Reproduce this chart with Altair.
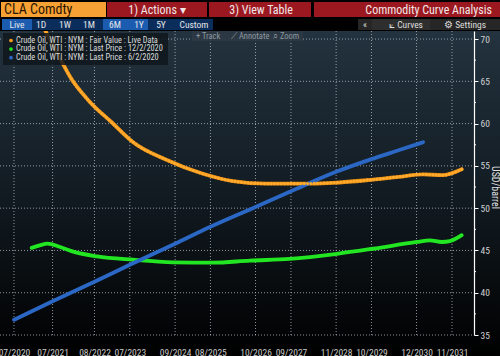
import altair as alt
import pandas as pd

# ---------------- data ----------------
fair_dates = ["2021-01-01", "2021-04-15", "2021-07-01", "2021-10-01", "2021-12-15",
              "2022-06-01", "2023-01-15", "2023-08-01", "2024-06-15", "2025-05-15",
              "2026-03-01", "2027-01-15", "2027-11-15", "2028-10-01", "2029-08-15",
              "2030-06-15", "2031-02-01", "2031-08-01", "2032-02-01"]
fair_vals = [74.0, 71.2, 69.3, 67.2, 65.5, 62.8, 60.1, 57.8, 55.7, 54.1,
             53.2, 52.9, 52.9, 53.0, 53.3, 53.7, 54.0, 53.9, 54.6]

dec_dates = ["2020-12-15", "2021-03-01", "2021-05-15", "2021-09-10", "2022-01-28",
             "2022-08-25", "2023-08-01", "2024-08-15", "2025-08-25", "2026-08-10",
             "2027-08-20", "2028-11-10", "2029-10-15", "2030-12-05", "2031-04-05",
             "2031-07-28", "2031-10-12", "2032-02-01"]
dec_vals = [45.3, 45.6, 45.8, 45.4, 44.8, 44.3, 43.9, 43.6, 43.55, 43.8,
            44.0, 44.6, 45.2, 46.0, 46.2, 46.0, 46.1, 46.8]

jun_dates = ["2020-07-01", "2021-07-01", "2022-08-01", "2023-07-01", "2024-09-01",
             "2025-08-01", "2026-09-05", "2027-09-01", "2028-11-01", "2029-10-01",
             "2030-06-28", "2031-02-01"]
jun_vals = [36.8, 39.0, 41.3, 43.3, 45.8, 47.8, 50.0, 52.0, 54.3, 55.8, 56.9, 57.8]

series_names = ["Crude Oil, WTI : NYM : Fair Value : Live Data",
                "Crude Oil, WTI : NYM : Last Price : 12/2/2020",
                "Crude Oil, WTI : NYM : Last Price : 6/2/2020"]
series_colors = ["#e58a12", "#22e622", "#2b67c4"]
legend_dot_colors = ["#f39a1f", "#22e622", "#2b67c4"]

y_ticks = [35, 40, 45, 50, 55, 60, 65, 70]
y_minor = [37.5, 42.5, 47.5, 52.5, 57.5, 62.5, 67.5]
x_tick_dates = ["2020-07-01", "2021-07-01", "2022-08-01", "2023-07-01", "2024-09-01",
                "2025-08-01", "2026-10-01", "2027-09-01", "2028-11-01", "2029-10-01",
                "2030-12-01", "2031-11-01"]

# ---------------- build ----------------
rows = []
for name, ds, vs in zip(series_names, [fair_dates, dec_dates, jun_dates],
                        [fair_vals, dec_vals, jun_vals]):
    for d, v in zip(ds, vs):
        rows.append({"date": d, "value": v, "series": name})
df = pd.DataFrame(rows)
df_fair = df[df["series"] == series_names[0]]

FONT = "Liberation Sans Narrow, Arial Narrow, Roboto Condensed, Liberation Sans, sans-serif"
W, H = 474, 304
P = 31  # page y of plot top


def dt(s):
    y, m, d = [int(t) for t in s.split("-")]
    return alt.DateTime(year=y, month=m, date=d, utc=True)


xscale = alt.Scale(type="utc", domain=[dt("2020-02-20"), dt("2032-05-27")])
yscale = alt.Scale(domain=[35, 70.95], nice=False, zero=False)

one = pd.DataFrame({"i": [0]})


def rect(x1, x2, y1, y2, color, opacity=1.0):
    return alt.Chart(one).mark_rect(color=color, opacity=opacity).encode(
        x=alt.value(x1), x2=alt.value(x2), y=alt.value(y1 - P), y2=alt.value(y2 - P))


def text(t, x, y, color="#e8e8e8", size=9, align="left", weight="normal"):
    return alt.Chart(one).mark_text(text=t, align=align, baseline="middle", color=color,
                                    fontSize=size, font=FONT, fontWeight=weight).encode(
        x=alt.value(x), y=alt.value(y - P))


bg = alt.Chart(one).mark_rect(
    color=alt.LinearGradient(gradient="linear",
                             stops=[alt.GradientStop(offset=0, color="#23333f"),
                                    alt.GradientStop(offset=0.5, color="#121b22"),
                                    alt.GradientStop(offset=1, color="#000000")],
                             x1=0, x2=0, y1=0, y2=1)
).encode(x=alt.value(0), x2=alt.value(500), y=alt.value(0), y2=alt.value(325))

ygrid = alt.Chart(pd.DataFrame({"v": y_ticks})).mark_rule(
    color="#c8d0d8", strokeDash=[1, 2], strokeWidth=1, opacity=0.7
).encode(y=alt.Y("v:Q", scale=yscale), x=alt.value(0), x2=alt.value(W))

xgrid = alt.Chart(pd.DataFrame({"d": x_tick_dates})).mark_rule(
    color="#c8d0d8", strokeDash=[1, 2], strokeWidth=1, opacity=0.7
).encode(x=alt.X("d:T", scale=xscale), y=alt.value(0), y2=alt.value(H))

minor = alt.Chart(pd.DataFrame({"v": y_minor})).mark_rule(
    color="#ffffff", strokeWidth=1
).encode(y=alt.Y("v:Q", scale=yscale), x=alt.value(W), x2=alt.value(W + 2))

lines = alt.Chart(df).mark_line(strokeWidth=3.8, strokeCap="round", interpolate="monotone",
                                clip=True).encode(
    x=alt.X("date:T", scale=xscale,
            axis=alt.Axis(values=[dt(s) for s in x_tick_dates],
                          labelExpr="utcFormat(datum.value, '%m/%Y')",
                          title=None, grid=False, domain=False,
                          ticks=False, labelFontSize=9.5, labelFont=FONT,
                          labelColor="#c8c8c8", labelPadding=12, zindex=1,
                          labelOverlap=False)),
    y=alt.Y("value:Q", scale=yscale,
            axis=alt.Axis(orient="right", values=y_ticks, title="USD/barrel",
                          grid=False, domainColor="#ffffff", domainWidth=1.2,
                          tickColor="#ffffff", tickSize=4, labelFontSize=9.5,
                          labelFont=FONT, labelColor="#d0d0d0", labelPadding=2,
                          titleFont=FONT, titleFontSize=10, titleColor="#e0e0e0",
                          titleFontWeight="normal", titleAngle=90, titleX=20,
                          titleY=156, titleAlign="center", titleBaseline="middle",
                          zindex=1)),
    color=alt.Color("series:N", scale=alt.Scale(domain=series_names, range=series_colors),
                    legend=None),
    detail="series:N",
)

# beaded highlight on the fair-value curve
beads = alt.Chart(df_fair).mark_line(strokeWidth=3.2, strokeCap="round",
                                     interpolate="monotone", clip=True,
                                     strokeDash=[0.01, 3.3], color="#ffab2e").encode(
    x=alt.X("date:T", scale=xscale), y=alt.Y("value:Q", scale=yscale))

layers = [bg, ygrid, xgrid, lines, beads, minor]

# legend overlay
layers.append(rect(3, 168, 33, 65, "#10171d", 0.86))
for i, (name, col) in enumerate(zip(series_names, legend_dot_colors)):
    yy = 40.5 + i * 8.6
    layers.append(alt.Chart(one).mark_circle(color=col, size=14, opacity=1).encode(
        x=alt.value(11), y=alt.value(yy - P)))
    layers.append(text(name, 16, yy, color="#dcdcdc", size=8.3))

# Track / Annotate / Zoom toolbar
layers.append(rect(192, 303, 31, 41, "#2c3944", 0.9))
layers.append(text("+ Track", 196, 36, color="#8d979f", size=8.5))
layers.append(text("⟋ Annotate", 231, 36, color="#8d979f", size=8.5))
layers.append(text("⌕ Zoom", 273, 36, color="#8d979f", size=8.5))

# header row 1
layers.append(rect(0, 500, 0, 31, "#000000"))
layers.append(rect(1, 106, 2, 17, "#f7a134"))
layers.append(rect(107, 207, 2, 17, "#9c1820"))
layers.append(rect(209, 311, 2, 17, "#9c1820"))
layers.append(rect(314, 500, 2, 17, "#9c1820"))
layers.append(text("CLA Comdty", 4, 10, color="#2a1500", size=14))
layers.append(text("1) Actions ▾", 157, 10, color="#f0e6e6", size=12, align="center"))
layers.append(text("3) View Table", 261, 10, color="#f0e6e6", size=12, align="center"))
layers.append(text("Commodity Curve Analysis", 492, 10, color="#f0e6e6", size=12,
                   align="right"))

# header row 2
layers.append(rect(2, 213, 19, 30, "#0b2d5c"))
layers.append(rect(2, 32, 19, 30, "#1c5cb0"))
layers.append(rect(103, 148, 19, 30, "#1c5cb0"))
layers.append(rect(358, 500, 19, 30, "#262626"))
layers.append(rect(372, 430, 19, 30, "#2e2e2e"))
for t, xx in [("Live", 17), ("1D", 41), ("1W", 65), ("1M", 89), ("6M", 115),
              ("1Y", 139), ("5Y", 161), ("Custom", 194)]:
    layers.append(text(t, xx, 24.5, color="#e6e6e6", size=9.5, align="center"))
layers.append(text("«", 365, 24.5, color="#dddddd", size=9.5, align="center"))
layers.append(text("⟀ Curves", 406, 24.5, color="#dddddd", size=9.5, align="center"))
layers.append(text("⚙ Settings", 465, 24.5, color="#dddddd", size=9.5, align="center"))

chart = alt.layer(*layers).properties(
    width=W, height=H,
    padding={"left": 0, "top": P, "right": 26, "bottom": 21},
    autosize=alt.AutoSizeParams(type="none"),
    background="#000000",
).configure_view(stroke=None)

chart.save("out.html", embed_options={"renderer": "svg", "actions": False})
